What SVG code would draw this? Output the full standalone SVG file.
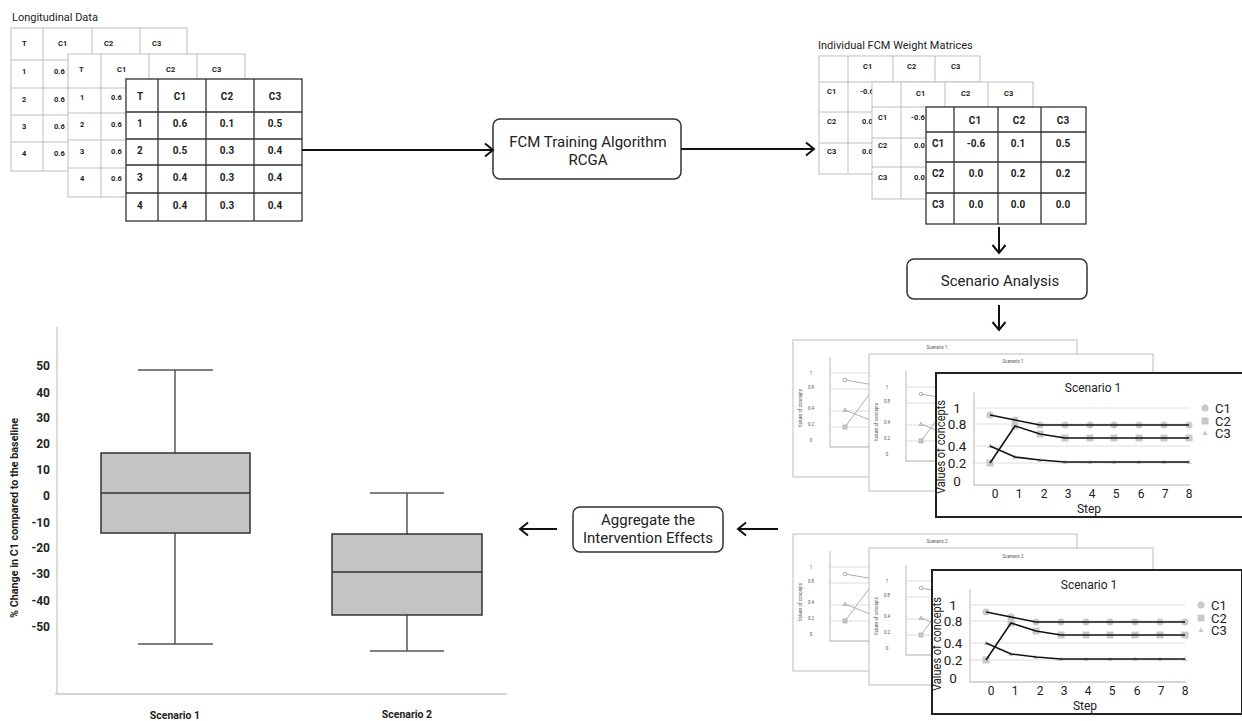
<svg xmlns="http://www.w3.org/2000/svg" width="1242" height="721" viewBox="0 0 1242 721">
<style>
text{font-family:Roboto,"Liberation Sans",sans-serif;fill:#222}
.bt{fill:#fff;stroke:#bdbdbd;stroke-width:1}
.ft{fill:#fff;stroke:#333;stroke-width:1.3}
.bg{stroke:#bdbdbd;stroke-width:1;fill:none}
.fg{stroke:#333;stroke-width:1.3;fill:none}
.c7{font-size:7.5px;font-weight:bold}
.c10{font-size:10px;font-weight:bold}
.mid{text-anchor:middle}
.end{text-anchor:end}
.node{fill:#fff;stroke:#333;stroke-width:1.5}
.lbl{font-size:15px;text-anchor:middle}
.cap{font-size:11px}
.conn{stroke:#111;stroke-width:2;fill:none;marker-end:url(#arr)}
.ax{stroke:#c8c8c8;stroke-width:1.3;fill:none}
.grid{stroke:#dedede;stroke-width:1;fill:none}
.tiny{font-size:4.5px;fill:#555}
.mk{fill:#c9c9c9}
.dl{stroke:#111;stroke-width:1.5;fill:none}
.bl{stroke:#999;stroke-width:0.8;fill:none}
.box{fill:#c4c4c4;stroke:#333;stroke-width:1.5}
.wh{stroke:#555;stroke-width:1.5;fill:none}
.yt{font-size:12px;font-weight:bold;text-anchor:end}
</style>
<defs>
<marker id="arr" markerUnits="userSpaceOnUse" viewBox="0 0 12 16" markerWidth="12" markerHeight="16" refX="9.5" refY="8" orient="auto">
<path d="M1.5,1.5 L9.5,8 L1.5,14.5" fill="none" stroke="#111" stroke-width="2"/>
</marker>
<circle id="mc" r="3.5" class="mk"/>
<rect id="ms" x="-3.5" y="-3.5" width="7" height="7" class="mk"/>
<path id="mt" d="M-2.6,2 L0,-2.5 L2.6,2 Z" class="mk"/>
<g id="bc">
<rect x="793" y="340" width="284" height="137" fill="#fff" stroke="#bdbdbd" stroke-width="1"/>
<path class="grid" d="M830,373H1070M830,389H1070M830,411H1070M830,427H1070"/>
<path class="ax" d="M830,357V447H1070" stroke-width="1"/>
<text class="tiny mid" x="811" y="374.5">1</text>
<text class="tiny mid" x="811" y="389">0.8</text>
<text class="tiny mid" x="811" y="410">0.4</text>
<text class="tiny mid" x="811" y="426">0.2</text>
<text class="tiny mid" x="811" y="442">0</text>
<text class="tiny mid" transform="translate(801.5,408) rotate(-90)">Values of concepts</text>
<path class="bl" d="M845,380L880,386M845,427L880,380M845,410L880,424"/>
<circle cx="845" cy="380" r="1.8" fill="#fff" stroke="#999" stroke-width="0.8"/>
<rect x="843" y="425" width="4" height="4" fill="#ccc" stroke="#999" stroke-width="0.6"/>
<path d="M843,411.5L845,408L847,411.5Z" fill="#ccc" stroke="#999" stroke-width="0.5"/>
</g>
<g id="fc">
<rect x="936" y="373" width="310" height="144" fill="#fff" stroke="#222" stroke-width="2"/>
<text x="1093" y="392" font-size="12" class="mid">Scenario 1</text>
<path class="grid" d="M974,408H1190M974,424H1190M974,446H1190M974,463H1190"/>
<path class="ax" d="M974,392V485H1190"/>
<g font-size="13.5" class="mid">
<text x="957" y="413">1</text>
<text x="957" y="429">0.8</text>
<text x="957" y="451">0.4</text>
<text x="957" y="468">0.2</text>
<text x="957" y="486">0</text>
</g>
<text class="mid" font-size="12.5" textLength="94" lengthAdjust="spacingAndGlyphs" transform="translate(945,447) rotate(-90)">Values of concepts</text>
<g font-size="12" class="mid">
<text x="995" y="498">0</text><text x="1019" y="498">1</text><text x="1044" y="498">2</text><text x="1068" y="498">3</text><text x="1092" y="498">4</text><text x="1116" y="498">5</text><text x="1141" y="498">6</text><text x="1165" y="498">7</text><text x="1189" y="498">8</text>
</g>
<text x="1089" y="513" font-size="12" class="mid">Step</text>
<use href="#mc" x="990" y="415"/><use href="#mc" x="1015" y="420"/><use href="#mc" x="1040" y="425"/><use href="#mc" x="1065" y="425"/><use href="#mc" x="1090" y="425"/><use href="#mc" x="1114" y="425"/><use href="#mc" x="1139" y="425"/><use href="#mc" x="1164" y="425"/><use href="#mc" x="1189" y="425"/>
<use href="#ms" x="990" y="463"/><use href="#ms" x="1015" y="426"/><use href="#ms" x="1040" y="434"/><use href="#ms" x="1065" y="438"/><use href="#ms" x="1090" y="438"/><use href="#ms" x="1114" y="438"/><use href="#ms" x="1139" y="438"/><use href="#ms" x="1164" y="438"/><use href="#ms" x="1189" y="438"/>
<use href="#mt" x="990" y="446"/><use href="#mt" x="1015" y="457"/><use href="#mt" x="1040" y="460"/><use href="#mt" x="1065" y="462"/><use href="#mt" x="1090" y="462"/><use href="#mt" x="1114" y="462"/><use href="#mt" x="1139" y="462"/><use href="#mt" x="1164" y="462"/><use href="#mt" x="1189" y="462"/>
<path class="dl" d="M990,415L1015,420L1040,425L1189,425"/>
<path class="dl" d="M990,463L1015,426L1040,434L1065,438L1189,438"/>
<path class="dl" d="M990,446L1015,457L1040,460L1065,462L1189,462"/>
<use href="#mc" x="1205" y="408"/><use href="#ms" x="1205" y="421"/><use href="#mt" x="1205" y="433"/>
<g font-size="13">
<text x="1215" y="413">C1</text>
<text x="1215" y="426">C2</text>
<text x="1215" y="438">C3</text>
</g>
</g>
</defs>
<rect width="1242" height="721" fill="#fff"/>

<g id="longitudinal-data">
<text x="12" y="21" class="cap">Longitudinal Data</text>
<rect class="bt" x="11" y="28" width="176" height="143"/>
<path class="bg" d="M43,28V171M92,28V171M140,28V171M11,60H187M11,88H187M11,115H187M11,142H187"/>
<g class="c7">
<text x="22" y="46">T</text><text x="58" y="46">C1</text><text x="104" y="46">C2</text><text x="152" y="46">C3</text>
<text x="22" y="74">1</text><text x="54" y="74">0.6</text>
<text x="22" y="102">2</text><text x="54" y="102">0.6</text>
<text x="22" y="129">3</text><text x="54" y="129">0.6</text>
<text x="22" y="156">4</text><text x="54" y="156">0.6</text>
</g>
<rect class="bt" x="68" y="54" width="177" height="143"/>
<path class="bg" d="M101,54V197M149,54V197M197,54V197M68,88H245M68,113H245M68,140H245M68,168H245"/>
<g class="c7">
<text x="79" y="72">T</text><text x="117" y="72">C1</text><text x="166" y="72">C2</text><text x="212" y="72">C3</text>
<text x="80" y="100">1</text><text x="111" y="100">0.6</text>
<text x="80" y="127">2</text><text x="111" y="127">0.6</text>
<text x="80" y="154">3</text><text x="111" y="154">0.6</text>
<text x="80" y="181">4</text><text x="111" y="181">0.6</text>
</g>
<rect class="ft" x="126" y="79" width="176" height="142"/>
<path class="fg" d="M158,79V221M206,79V221M254,79V221M126,112H302M126,139H302M126,165H302M126,193H302"/>
<g class="c10">
<text x="137" y="100">T</text><text x="180" y="100" class="mid">C1</text><text x="227" y="100" class="mid">C2</text><text x="275" y="100" class="mid">C3</text>
<text x="137" y="127">1</text><text x="180" y="127" class="mid">0.6</text><text x="227" y="127" class="mid">0.1</text><text x="275" y="127" class="mid">0.5</text>
<text x="137" y="154">2</text><text x="180" y="154" class="mid">0.5</text><text x="227" y="154" class="mid">0.3</text><text x="275" y="154" class="mid">0.4</text>
<text x="137" y="181">3</text><text x="180" y="181" class="mid">0.4</text><text x="227" y="181" class="mid">0.3</text><text x="275" y="181" class="mid">0.4</text>
<text x="137" y="209">4</text><text x="180" y="209" class="mid">0.4</text><text x="227" y="209" class="mid">0.3</text><text x="275" y="209" class="mid">0.4</text>
</g>
</g>

<g id="fcm-training">
<rect class="node" x="493" y="119" width="188" height="60" rx="7"/>
<text class="lbl" x="588" y="147">FCM Training Algorithm</text>
<text class="lbl" x="588" y="165">RCGA</text>
</g>

<g id="weight-matrices">
<text x="818" y="49" class="cap">Individual FCM Weight Matrices</text>
<rect class="bt" x="819" y="56" width="161" height="118"/>
<path class="bg" d="M848,56V174M893,56V174M935,56V174M819,82H980M819,112H980M819,143H980"/>
<g class="c7">
<text x="863" y="69">C1</text><text x="907" y="69">C2</text><text x="951" y="69">C3</text>
<text x="827" y="94">C1</text><text x="860" y="94">-0.6</text>
<text x="827" y="124">C2</text><text x="862" y="124">0.0</text>
<text x="827" y="154">C3</text><text x="862" y="154">0.0</text>
</g>
<rect class="bt" x="872" y="82" width="161" height="117"/>
<path class="bg" d="M901,82V199M945,82V199M988,82V199M872,107H1033M872,138H1033M872,167H1033"/>
<g class="c7">
<text x="916" y="96">C1</text><text x="961" y="96">C2</text><text x="1004" y="96">C3</text>
<text x="878" y="120">C1</text><text x="911" y="120">-0.6</text>
<text x="878" y="148">C2</text><text x="914" y="148">0.0</text>
<text x="878" y="180">C3</text><text x="914" y="180">0.0</text>
</g>
<rect class="ft" x="926" y="107" width="160" height="117"/>
<path class="fg" d="M954,107V224M998,107V224M1041,107V224M926,132H1086M926,162H1086M926,193H1086"/>
<g class="c10">
<text x="975" y="124" class="mid">C1</text><text x="1019" y="124" class="mid">C2</text><text x="1063" y="124" class="mid">C3</text>
<text x="932" y="147">C1</text><text x="976" y="147" class="mid">-0.6</text><text x="1018" y="147" class="mid">0.1</text><text x="1063" y="147" class="mid">0.5</text>
<text x="932" y="177">C2</text><text x="976" y="177" class="mid">0.0</text><text x="1018" y="177" class="mid">0.2</text><text x="1063" y="177" class="mid">0.2</text>
<text x="932" y="208">C3</text><text x="976" y="208" class="mid">0.0</text><text x="1018" y="208" class="mid">0.0</text><text x="1063" y="208" class="mid">0.0</text>
</g>
</g>

<g id="scenario-analysis">
<rect class="node" x="907" y="259" width="180" height="40" rx="7"/>
<text class="lbl" x="1000" y="286">Scenario Analysis</text>
</g>

<g id="scenario-charts-1">
<use href="#bc"/>
<text class="tiny mid" x="937" y="348.5">Scenario 1</text>
<use href="#bc" transform="translate(76,14)"/>
<text class="tiny mid" x="1013" y="362.5">Scenario 1</text>
<use href="#fc"/>
</g>

<g id="scenario-charts-2">
<use href="#bc" transform="translate(0,194)"/>
<text class="tiny mid" x="937" y="542.5">Scenario 2</text>
<use href="#bc" transform="translate(76,208)"/>
<text class="tiny mid" x="1013" y="557.5">Scenario 2</text>
<use href="#fc" transform="translate(-4,197)"/>
</g>

<g id="aggregate">
<rect class="node" x="573" y="507" width="150" height="45" rx="7"/>
<text class="lbl" x="648" y="525">Aggregate the</text>
<text class="lbl" x="648" y="543">Intervention Effects</text>
</g>

<g id="boxplot">
<path class="ax" d="M57,327V694M55,694H507"/>
<g>
<text class="yt" x="50" y="370">50</text>
<text class="yt" x="50" y="397">40</text>
<text class="yt" x="50" y="422">30</text>
<text class="yt" x="50" y="448">20</text>
<text class="yt" x="50" y="474">10</text>
<text class="yt" x="50" y="500">0</text>
<text class="yt" x="50" y="527">-10</text>
<text class="yt" x="50" y="552">-20</text>
<text class="yt" x="50" y="578">-30</text>
<text class="yt" x="50" y="605">-40</text>
<text class="yt" x="50" y="631">-50</text>
</g>
<text class="mid" font-size="11" font-weight="bold" textLength="200" lengthAdjust="spacingAndGlyphs" transform="translate(18,518) rotate(-90)">% Change in C1 compared to the baseline</text>
<path class="wh" d="M175,370V453M175,533V644M138,370H213M138,644H213"/>
<rect class="box" x="101" y="453" width="149" height="80"/>
<path d="M101,493H250" stroke="#333" stroke-width="1.5"/>
<path class="wh" d="M407,493V534M407,615V651M370,493H444M370,651H444"/>
<rect class="box" x="332" y="534" width="150" height="81"/>
<path d="M332,572H482" stroke="#333" stroke-width="1.5"/>
<text class="mid" x="175" y="719" font-size="10.5" font-weight="bold">Scenario 1</text>
<text class="mid" x="407" y="718" font-size="10.5" font-weight="bold">Scenario 2</text>
</g>

<g id="connectors">
<path class="conn" d="M302,150H493"/>
<path class="conn" d="M681,149H814"/>
<path class="conn" d="M999,227V253"/>
<path class="conn" d="M999,305V330"/>
<path class="conn" d="M778,529H738"/>
<path class="conn" d="M557,529H520"/>
</g>
</svg>
